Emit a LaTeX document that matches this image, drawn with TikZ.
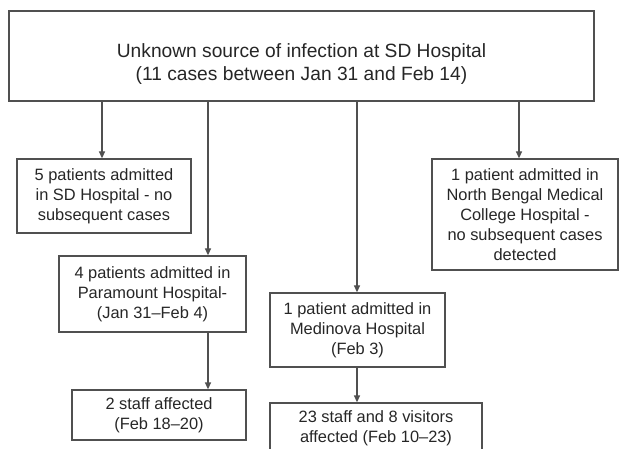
\documentclass[tikz,border=0pt]{standalone}
\usepackage{fontspec}
\setmainfont{Liberation Sans}
\usepackage{xcolor}
\usepackage{tikz}
\usetikzlibrary{
    positioning,
    arrows.meta,
}
\definecolor{linegray}{HTML}{505050}
\definecolor{textgray}{HTML}{262626}

\begin{document}
\begin{tikzpicture}[
    x=1pt, y=-1pt,
    box/.style={rectangle, draw=linegray, line width=1.3pt, inner sep=0pt, align=center,
                text=textgray, font=\fontsize{16.4}{20}\selectfont},
    big box/.style={box, font=\fontsize{19.2}{23}\selectfont},
    arrow/.style={-{Triangle[length=7pt, width=6pt]}, draw=linegray, line width=1.3pt},
]
    \useasboundingbox (0,0) rectangle (619,449);

    % Boxes
    \node[big box, minimum width=585pt, text height=70pt, text depth=20pt] (source) at (301.5, 56)
        {Unknown source of infection at SD Hospital\\(11 cases between Jan 31 and Feb 14)};
    \node[box, minimum width=174pt, minimum height=74pt] (sdh) at (104, 196)
        {5 patients admitted\\in SD Hospital - no\\subsequent cases};
    \node[box, minimum width=186pt, minimum height=111pt] (nbmc) at (525, 214.5)
        {1 patient admitted in\\North Bengal Medical\\College Hospital -\\no subsequent cases\\detected};
    \node[box, minimum width=187pt, minimum height=76pt] (paramount) at (152.5, 294)
        {4 patients admitted in\\Paramount Hospital-\\(Jan 31--Feb 4)};
    \node[box, minimum width=175pt, minimum height=74pt] (medinova) at (357.5, 330)
        {1 patient admitted in\\Medinova Hospital\\(Feb 3)};
    \node[box, minimum width=174pt, minimum height=50pt] (paramountstaff) at (159, 415)
        {2 staff affected\\(Feb 18--20)};
    \node[box, minimum width=212pt, minimum height=50pt] (medinovastaff) at (376, 428)
        {23 staff and 8 visitors\\affected (Feb 10--23)};

    % Arrow columns
    \coordinate (sdhcol) at ([xshift=-2pt]sdh.north);
    \coordinate (paracol) at ([xshift=55.5pt]paramount.north);
    \coordinate (medicol) at ([xshift=-0.5pt]medinova.north);
    \coordinate (nbmccol) at ([xshift=-6pt]nbmc.north);

    % Arrows
    \draw[arrow] (source.south -| sdhcol) -- (sdhcol);
    \draw[arrow] (source.south -| paracol) -- (paracol);
    \draw[arrow] (source.south -| medicol) -- (medicol);
    \draw[arrow] (source.south -| nbmccol) -- (nbmccol);
    \draw[arrow] (paramount.south -| paracol) -- (paramountstaff.north -| paracol);
    \draw[arrow] (medinova.south -| medicol) -- (medinovastaff.north -| medicol);
\end{tikzpicture}
\end{document}
